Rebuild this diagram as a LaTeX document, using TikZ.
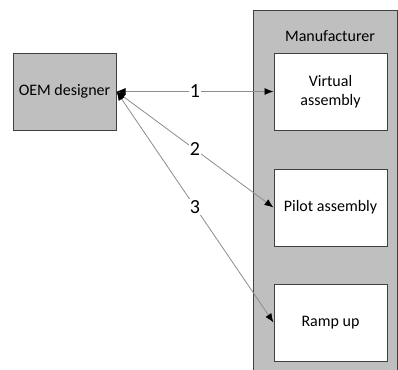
\documentclass[tikz,border=0pt]{standalone}
\usepackage{fontspec}
\setmainfont{Carlito}
\usetikzlibrary{arrows.meta}
\begin{document}
\begin{tikzpicture}[x=1pt,y=-1pt,
  box/.style={draw=black!75,line width=1pt,minimum width=113pt,minimum height=77pt,align=center,font=\fontsize{16}{19}\selectfont,inner sep=2pt},
  link/.style={draw=black!45,line width=0.8pt,{Latex[length=9pt,width=7pt,fill=black,color=black]}-{Latex[length=9pt,width=7pt,fill=black,color=black]}},
  num/.style={fill=white,inner sep=1pt,font=\fontsize{20}{22}\selectfont}]
\useasboundingbox (0,0) rectangle (398,369);
\begin{scope}
\clip (0,0) rectangle (398,369);
\node[draw=black!75,line width=1pt,fill=black!25,minimum width=144pt,minimum height=380pt,anchor=north west,inner sep=0pt] (man) at (253,10) {};
\end{scope}
\node[font=\fontsize{16}{19}\selectfont] (manl) at (330,36) {Manufacturer};
\node[box,fill=black!25,minimum width=103pt] (oem) at (64.5,91.5) {OEM designer};
\node[box,fill=white] (va) at (330.5,91.5) {Virtual\\assembly};
\node[box,fill=white] (pa) at (330.5,207.5) {Pilot assembly};
\node[box,fill=white] (ru) at (330.5,322.5) {Ramp up};
\draw[link] (oem.east) -- node[num]{1} (va.west);
\draw[link] (oem.east) -- node[num]{2} (pa.west);
\draw[link] (oem.east) -- node[num]{3} (ru.west);
\end{tikzpicture}
\end{document}
